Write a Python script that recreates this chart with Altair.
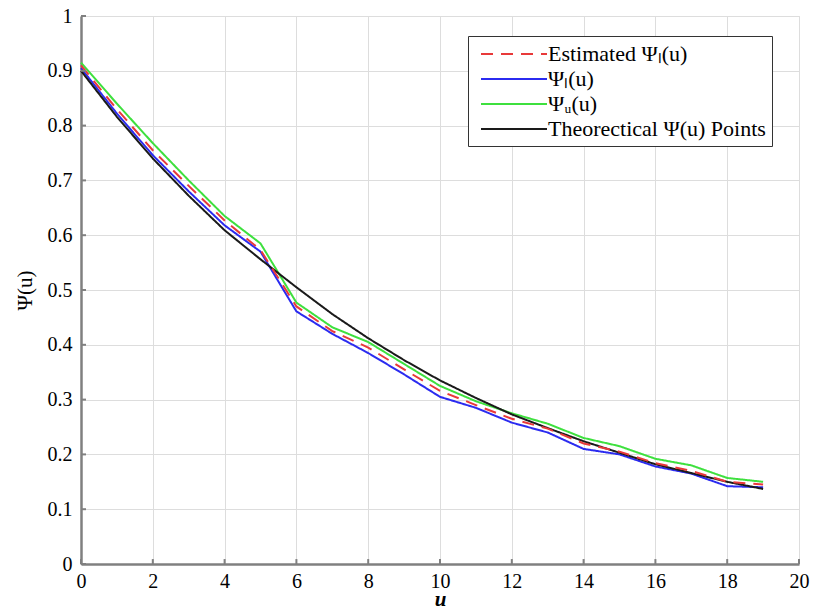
import altair as alt
import pandas as pd

u = list(range(20))
estimated = [0.910, 0.830, 0.755, 0.690, 0.627, 0.573, 0.470, 0.425, 0.395, 0.355,
             0.316, 0.290, 0.265, 0.247, 0.220, 0.205, 0.184, 0.170, 0.150, 0.145]
psi_l = [0.905, 0.822, 0.746, 0.680, 0.618, 0.570, 0.461, 0.420, 0.385, 0.346,
         0.305, 0.285, 0.258, 0.240, 0.210, 0.200, 0.178, 0.165, 0.142, 0.140]
psi_u = [0.915, 0.840, 0.768, 0.700, 0.635, 0.585, 0.477, 0.432, 0.405, 0.365,
         0.325, 0.297, 0.275, 0.256, 0.230, 0.215, 0.192, 0.180, 0.157, 0.150]
theo = [0.900, 0.816, 0.740, 0.672, 0.609, 0.556, 0.505, 0.456, 0.412, 0.372,
        0.335, 0.303, 0.273, 0.248, 0.224, 0.203, 0.182, 0.166, 0.150, 0.137]

x_ticks = list(range(0, 21, 2))
y_ticks = [i / 10 for i in range(11)]

names = ["Estimated Ψₗ(u)", "Ψₗ(u)", "Ψᵤ(u)", "Theorectical Ψ(u) Points"]
colors = ["#e8393a", "#2b2bf0", "#3ee03e", "#1a1a1a"]
dashes = [[12, 8], [1, 0], [1, 0], [1, 0]]

rows = []
for name, vals in [(names[1], psi_l), (names[2], psi_u), (names[3], theo), (names[0], estimated)]:
    for x, y in zip(u, vals):
        rows.append({"u": x, "psi": y, "series": name})
df = pd.DataFrame(rows)

font = "Liberation Serif"
axis_gray = "#808080"

legend = alt.Legend(
    title=None, orient="none", legendX=387, legendY=20,
    strokeColor="#333333", fillColor="white", padding=6,
    labelFont=font, labelFontSize=22, labelColor="black", labelLimit=400,
    symbolType="M-3,0H3", symbolSize=484, symbolStrokeWidth=2,
    symbolOffset=28, labelOffset=22,
    rowPadding=2,
)

xscale = alt.Scale(domain=[0, 20], nice=False)
yscale = alt.Scale(domain=[0, 1], nice=False)

lines = alt.Chart(df).mark_line(strokeWidth=2).encode(
    x=alt.X("u:Q", scale=xscale,
            axis=alt.Axis(values=x_ticks, title="u", labelFlush=False,
                          titleFontStyle="italic", titleFontWeight="bold")),
    y=alt.Y("psi:Q", scale=yscale,
            axis=alt.Axis(values=y_ticks, title="Ψ(u)", titleFontWeight="normal",
                          labelFlush=False,
                          labelExpr="datum.value == 0 ? '0' : datum.value == 1 ? '1' : format(datum.value, '.1f')")),
    color=alt.Color("series:N", scale=alt.Scale(domain=names, range=colors), legend=legend),
    strokeDash=alt.StrokeDash("series:N", scale=alt.Scale(domain=names, range=dashes), legend=legend),
)

# inward tick marks
xt = pd.DataFrame({"u": x_ticks, "y0": [0.0] * len(x_ticks), "y1": [0.009] * len(x_ticks)})
yt = pd.DataFrame({"psi": y_ticks, "x0": [0.0] * len(y_ticks), "x1": [0.14] * len(y_ticks)})
xtick_rules = alt.Chart(xt).mark_rule(color=axis_gray, strokeWidth=2).encode(
    x=alt.X("u:Q", scale=xscale), y=alt.Y("y0:Q", scale=yscale), y2="y1:Q")
ytick_rules = alt.Chart(yt).mark_rule(color=axis_gray, strokeWidth=2).encode(
    y=alt.Y("psi:Q", scale=yscale), x=alt.X("x0:Q", scale=xscale), x2="x1:Q")

chart = alt.layer(lines, xtick_rules, ytick_rules).properties(
    width=718, height=548,
    autosize=alt.AutoSizeParams(type="none"),
    padding={"left": 73, "top": 8, "right": 13, "bottom": 42},
).configure_view(
    stroke="#dddddd", strokeWidth=1
).configure_axis(
    labelFont=font, labelFontSize=20, labelColor="black",
    titleFont=font, titleFontSize=21, titleColor="black",
    gridColor="#dddddd", gridWidth=1,
    domainColor=axis_gray, domainWidth=2.5,
    ticks=False,
).configure_axisY(
    labelPadding=9, titlePadding=12,
).configure_axisX(
    labelPadding=7, titlePadding=14, titleBaseline="alphabetic",
)

chart.save("out.html", embed_options={"renderer": "svg", "actions": False})
